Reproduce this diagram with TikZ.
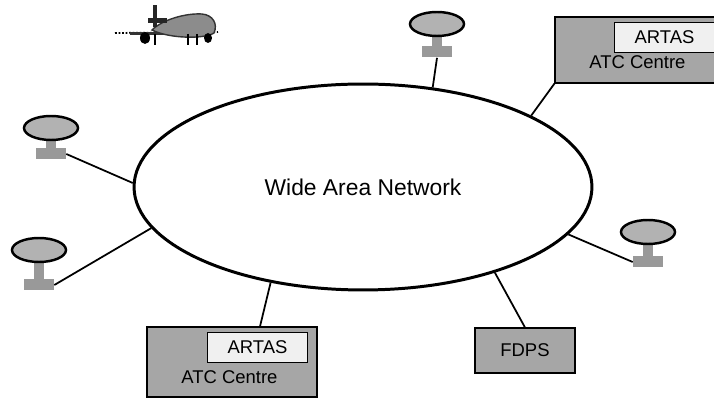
\documentclass[tikz,border=0pt]{standalone}
\usepackage{fontspec}
\setmainfont{Liberation Sans}
\usetikzlibrary{shapes.geometric}

\tikzset{
  dish/.style={ellipse, draw, line width=1.4pt, fill=black!30, minimum width=1.08cm, minimum height=0.48cm, inner sep=0pt},
  plate/.style={rectangle, fill=black!40, minimum width=0.6cm, minimum height=0.22cm, inner sep=0pt},
  site/.style={rectangle, draw, line width=0.6pt, fill=black!35, inner sep=0pt},
  artasbox/.style={rectangle, draw, line width=0.8pt, fill=black!6, minimum width=2cm, minimum height=0.6cm, inner sep=0pt, font=\fontsize{10.5}{12}\selectfont},
  lbl/.style={font=\fontsize{10.5}{12}\selectfont, inner sep=0pt},
  link/.style={line width=1pt},
}

\begin{document}
\begin{tikzpicture}[x=0.02cm, y=-0.02cm]
    \useasboundingbox (0,0) rectangle (714,398);

    % Draw the network
    \node[ellipse, draw, line width=1.7pt, minimum width=9.16cm, minimum height=4.12cm, inner sep=0pt,
          font=\fontsize{13}{15}\selectfont] (wan) at (363,187) {Wide Area Network};

    % Draw the radar antennas (name/x/dish y/plate y)
    \foreach \n/\x/\dy/\py in {top/437/24/52, ul/51/128/154, ll/39/250/285, rt/648/232/262} {
        % Stem between dish and plate
        \fill[black!40] (\x-5,\dy) rectangle (\x+5,\py);
        \node[plate] (plate\n) at (\x,\py) {};
        \node[dish] (dish\n) at (\x,\dy) {};
    }

    % Link the antennas to the network
    \foreach \n/\s/\a in {top/south/55, ul/east/179, ll/east/191, rt/west/347} {
        \draw[link] (plate\n.\s) -- (wan.\a);
    }

    % ATC centres
    \node[site, minimum width=3.22cm, minimum height=1.32cm] (atcR) at (635.5,50) {};
    \node[artasbox] (artasR) at (664.5,37.5) {ARTAS};
    \node[lbl] (atcRtxt) at (637.5,62) {ATC Centre};

    \node[site, minimum width=3.4cm, minimum height=1.4cm] (atcB) at (232,362) {};
    \node[artasbox] (artasB) at (257.5,347.5) {ARTAS};
    \node[lbl] (atcBtxt) at (229.5,377) {ATC Centre};

    % Flight data processing
    \node[site, minimum width=2cm, minimum height=0.9cm, font=\fontsize{10.5}{12}\selectfont] (fdps) at (525,350.5) {FDPS};

    \draw[link] (atcR.south west) -- (wan.23);
    \draw[link] ([xshift=0.56cm]atcB.north) -- (wan.226);
    \draw[link] (fdps.north) -- (wan.327);

    % Aircraft
    \draw[densely dotted, line width=1pt] (115,33) -- (218,32);
    \fill[black!80] (130,32) rectangle (167,35);
    \fill[black!45, draw=black!80, line width=0.8pt]
        (152,30) .. controls (162,20) and (185,13) .. (202,14)
        .. controls (213,15) and (218,24) .. (214,33)
        .. controls (205,39) and (170,39) .. (152,30) -- cycle;
    \fill[black!85] (153,5) rectangle (157,27);
    \fill[black!85] (148,18) rectangle (167,23);
    \foreach \x in {155,188,197} {
        \draw[line width=1pt] (\x,34) -- (\x,45);
    }
    \fill[black] (145,38) ellipse (5 and 6);
    \fill[black] (208,38) ellipse (4 and 5);
\end{tikzpicture}
\end{document}
